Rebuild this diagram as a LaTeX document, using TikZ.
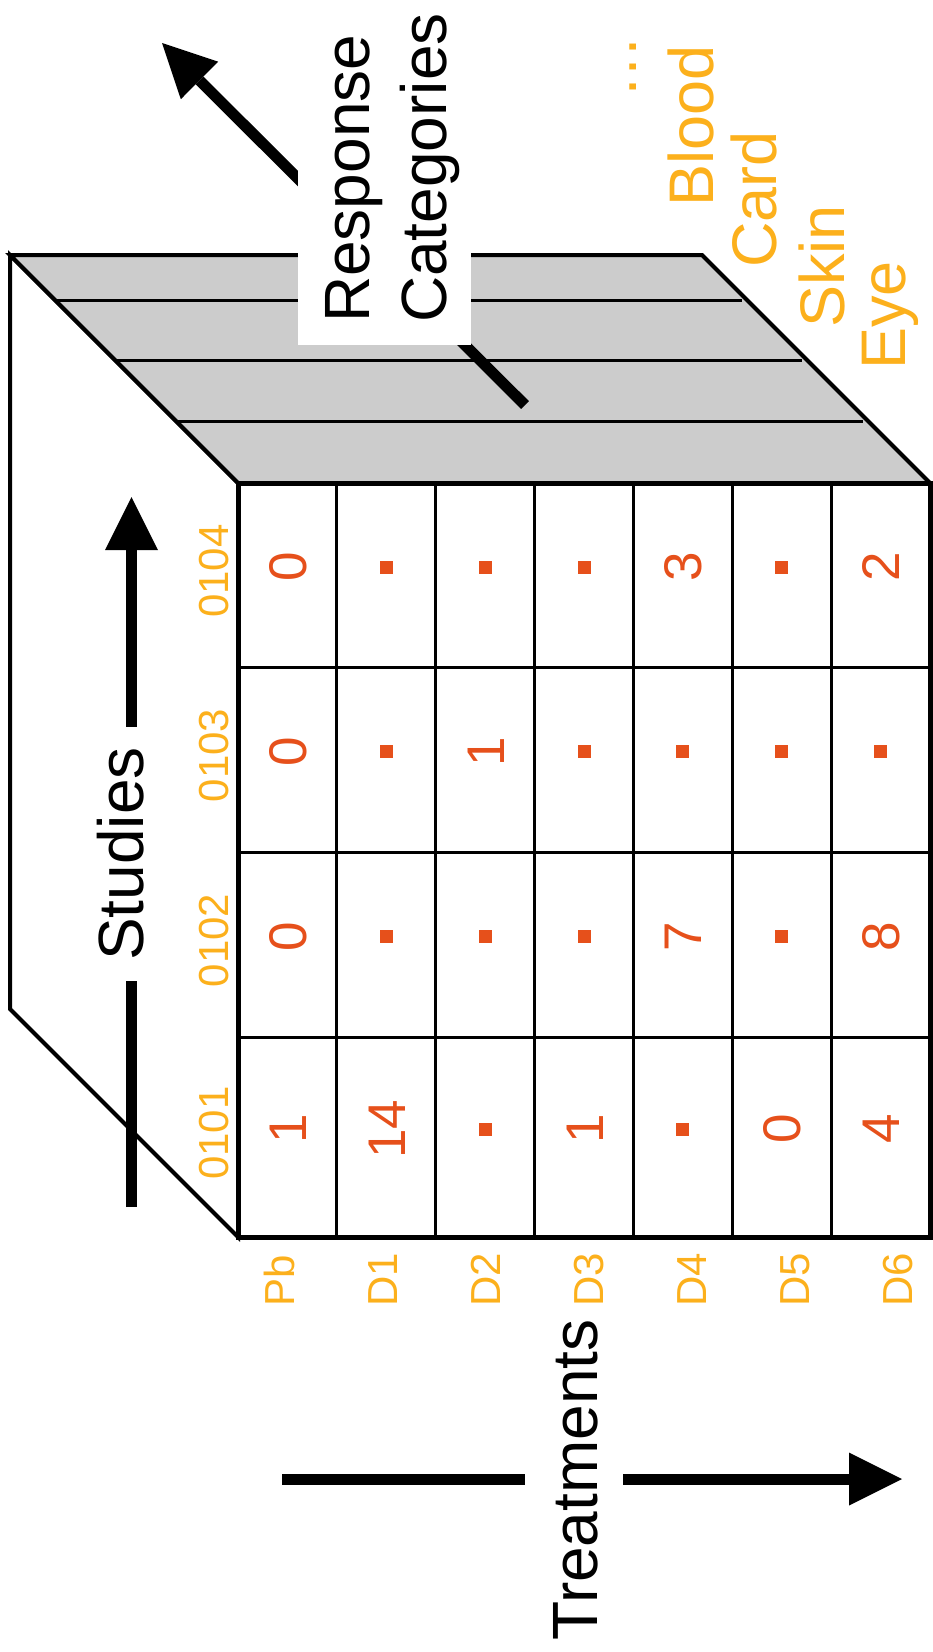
\documentclass[tikz,border=0pt]{standalone}
\usepackage{fontspec}
\setmainfont{Liberation Sans}
\usetikzlibrary{arrows.meta}
\definecolor{cellred}{HTML}{E6501B}
\definecolor{labgold}{HTML}{FCB01C}
\definecolor{facegray}{HTML}{CCCCCC}

\begin{document}
\begin{tikzpicture}[x=1pt,y=-1pt,
  edge/.style={line width=4pt, line join=miter},
  gridline/.style={line width=3pt},
  faceline/.style={line width=3pt},
  axis/.style={line width=11pt, -{Triangle[length=53pt,width=53pt,line width=0pt]}},
  bigtext/.style={font=\fontsize{64}{77}\selectfont, rotate=90},
  cellnum/.style={text=cellred, font=\fontsize{53}{60}\selectfont, rotate=90, anchor=base, inner sep=0pt},
  cellmiss/.style={fill=cellred, minimum size=13pt, inner sep=0pt},
  studylab/.style={text=labgold, font=\fontsize{42}{50}\selectfont, rotate=90, anchor=base, inner sep=0pt},
  trtlab/.style={text=labgold, font=\fontsize{42}{50}\selectfont, rotate=90, anchor=base west, inner sep=0pt},
  catlab/.style={text=labgold, font=\fontsize{63}{75}\selectfont, rotate=90, anchor=base west, inner sep=0pt}
]
\useasboundingbox (0,0) rectangle (932,1652);

% corners of the data cube
\coordinate (B1) at (10,255);
\coordinate (B2) at (702,255);
\coordinate (F1) at (238,483);
\coordinate (F2) at (930,483);
\coordinate (B4) at (10,1009);
\coordinate (F4) at (238,1237);
\coordinate (F3) at (930,1237);

% side and top faces
\draw[edge, fill=white] (B1) -- (F1) -- (F4) -- (B4) -- cycle;
\draw[edge, fill=facegray] (B1) -- (B2) -- (F2) -- (F1) -- cycle;
\foreach \y in {300,360,421}
  \draw[faceline] (10+\y-255,\y) -- (697+\y-255,\y);

% front face: treatments x studies
\fill[white] (F1) rectangle (F3);
\foreach \i in {1,...,6}
  \draw[gridline] (238+98.857*\i,483) -- (238+98.857*\i,1237);
\foreach \y in {667,852,1037}
  \draw[gridline] (238,\y) -- (930,\y);
\draw[line width=5pt] (F1) rectangle (F3);

% cell counts (m = missing)
\def\mis{m}
\foreach \r/\yc/\vals in {
    0104/575/{0,m,m,m,3,m,2},
    0103/759.5/{0,m,1,m,m,m,m},
    0102/944.5/{0,m,m,m,7,m,8},
    0101/1137/{1,14,m,1,m,0,4}} {
  \foreach \v [count=\c from 0] in \vals {
    \pgfmathsetmacro\xc{287.5+98.857*\c}
    \edef\cur{\v}
    \ifx\cur\mis
      \node[cellmiss] (m-\r-\c) at (\xc,\yc-8) {};
    \else
      \node[cellnum] (n-\r-\c) at (\xc+19,\yc-8) {\v};
    \fi
  }
}

% study labels
\foreach \s/\yc in {0101/1137,0102/944.5,0103/759.5,0104/575}
  \node[studylab] (st-\s) at (228,\yc-4) {\s};

% treatment labels
\foreach \t [count=\i from 0] in {Pb,D1,D2,D3,D4,D5,D6}
  \node[trtlab] (tr-\t) at (294+103*\i,1307) {\t};

% response category labels
\node[catlab] (cat-eye)   at (905,370) {Eye};
\node[catlab] (cat-skin)  at (844,328) {Skin};
\node[catlab] (cat-card)  at (776,268) {Card};
\node[catlab] (cat-blood) at (713,207) {Blood};
\node[catlab] (cat-more)  at (636,99)  {…};

% axis arrows
\coordinate (rc-start) at (525,405);
\coordinate (rc-tip)   at (162,43);
\coordinate (st-start) at (131.5,1207);
\coordinate (st-tip)   at (131.5,497);
\coordinate (tr-start) at (282,1479);
\coordinate (tr-tip)   at (902,1479);
\draw[axis] (rc-start) -- (rc-tip);
\draw[axis] (st-start) -- (st-tip);
\draw[axis] (tr-start) -- (tr-tip);

% axis titles on white patches that break the arrows
\node[bigtext, fill=white, anchor=north west, inner xsep=22pt, inner ysep=24.5pt,
      text height=47pt, text depth=77pt] (rc-label) at (298,345)
  {\begin{tabular}[t]{@{}l@{}}Response\\Categories\end{tabular}};
\node[bigtext, fill=white, anchor=base, inner xsep=20.5pt, inner ysep=4pt,
      text height=47pt, text depth=0pt] (st-label) at (143,854) {Studies};
\node[bigtext, fill=white, anchor=base, inner xsep=4pt, inner ysep=26pt,
      text height=46pt, text depth=0pt] (tr-label) at (597,1480) {Treatments};
\end{tikzpicture}
\end{document}
